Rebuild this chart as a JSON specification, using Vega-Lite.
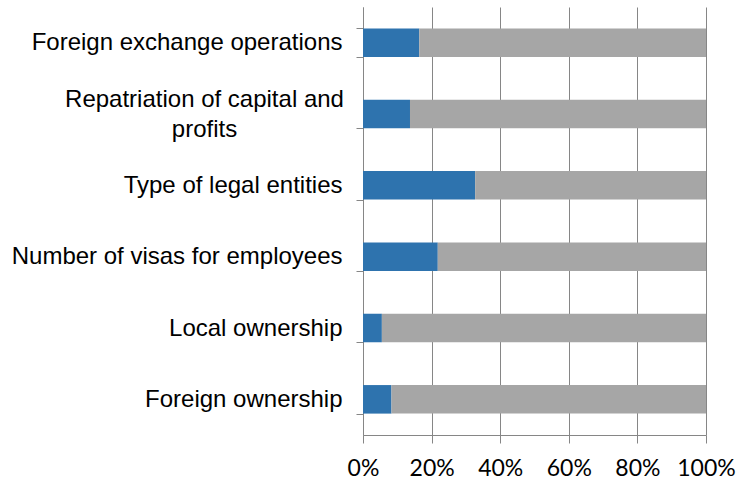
{
  "$schema": "https://vega.github.io/schema/vega-lite/v6.json",
  "autosize": {"type": "none"},
  "padding": {"left": 363, "top": 7, "right": 32, "bottom": 49},
  "width": 343,
  "height": 428,
  "background": "white",
  "config": {"view": {"stroke": null}},
  "data": {
    "values": [
      {"category": "Foreign exchange operations", "series": "Yes", "order": 1, "value": 0.164},
      {"category": "Foreign exchange operations", "series": "No", "order": 2, "value": 0.836},
      {"category": "Repatriation of capital and profits", "series": "Yes", "order": 1, "value": 0.137},
      {"category": "Repatriation of capital and profits", "series": "No", "order": 2, "value": 0.863},
      {"category": "Type of legal entities", "series": "Yes", "order": 1, "value": 0.327},
      {"category": "Type of legal entities", "series": "No", "order": 2, "value": 0.673},
      {"category": "Number of visas for employees", "series": "Yes", "order": 1, "value": 0.218},
      {"category": "Number of visas for employees", "series": "No", "order": 2, "value": 0.782},
      {"category": "Local ownership", "series": "Yes", "order": 1, "value": 0.055},
      {"category": "Local ownership", "series": "No", "order": 2, "value": 0.945},
      {"category": "Foreign ownership", "series": "Yes", "order": 1, "value": 0.083},
      {"category": "Foreign ownership", "series": "No", "order": 2, "value": 0.917}
    ]
  },
  "mark": {"type": "bar"},
  "encoding": {
    "y": {
      "field": "category",
      "type": "nominal",
      "sort": null,
      "scale": {"paddingInner": 0.6, "paddingOuter": 0.3},
      "axis": {
        "title": null,
        "tickBand": "extent",
        "tickSize": 7,
        "tickColor": "#868686",
        "domainColor": "#868686",
        "grid": false,
        "labelFont": "Liberation Sans",
        "labelFontSize": 24,
        "labelColor": "#000000",
        "labelPadding": {"condition": {"test": "datum.label == 'Repatriation of capital and profits'", "value": 152}, "value": 14},
        "labelAlign": {"condition": {"test": "datum.label == 'Repatriation of capital and profits'", "value": "center"}, "value": "right"},
        "labelLimit": 400,
        "labelLineHeight": 30,
        "labelOffset": {"condition": {"test": "datum.label == 'Repatriation of capital and profits'", "value": -15}, "value": 0},
        "labelExpr": "datum.label == 'Repatriation of capital and profits' ? ['Repatriation of capital and', 'profits'] : datum.label"
      }
    },
    "x": {
      "field": "value",
      "type": "quantitative",
      "stack": "zero",
      "scale": {"domain": [0, 1], "nice": false},
      "axis": {
        "title": null,
        "values": [0, 0.2, 0.4, 0.6, 0.8, 1],
        "format": ".0%",
        "grid": true,
        "gridColor": "#868686",
        "tickColor": "#868686",
        "domainColor": "#868686",
        "tickSize": 8,
        "labelFont": "Lato",
        "labelFontSize": 23,
        "labelColor": "#000000",
        "labelPadding": 14,
        "labelOverlap": false,
        "labelFlush": false,
        "labelBound": false
      }
    },
    "color": {
      "field": "series",
      "type": "nominal",
      "scale": {"domain": ["Yes", "No"], "range": ["#2E73AE", "#A6A6A6"]},
      "legend": null
    },
    "order": {"field": "order", "type": "quantitative"}
  }
}
